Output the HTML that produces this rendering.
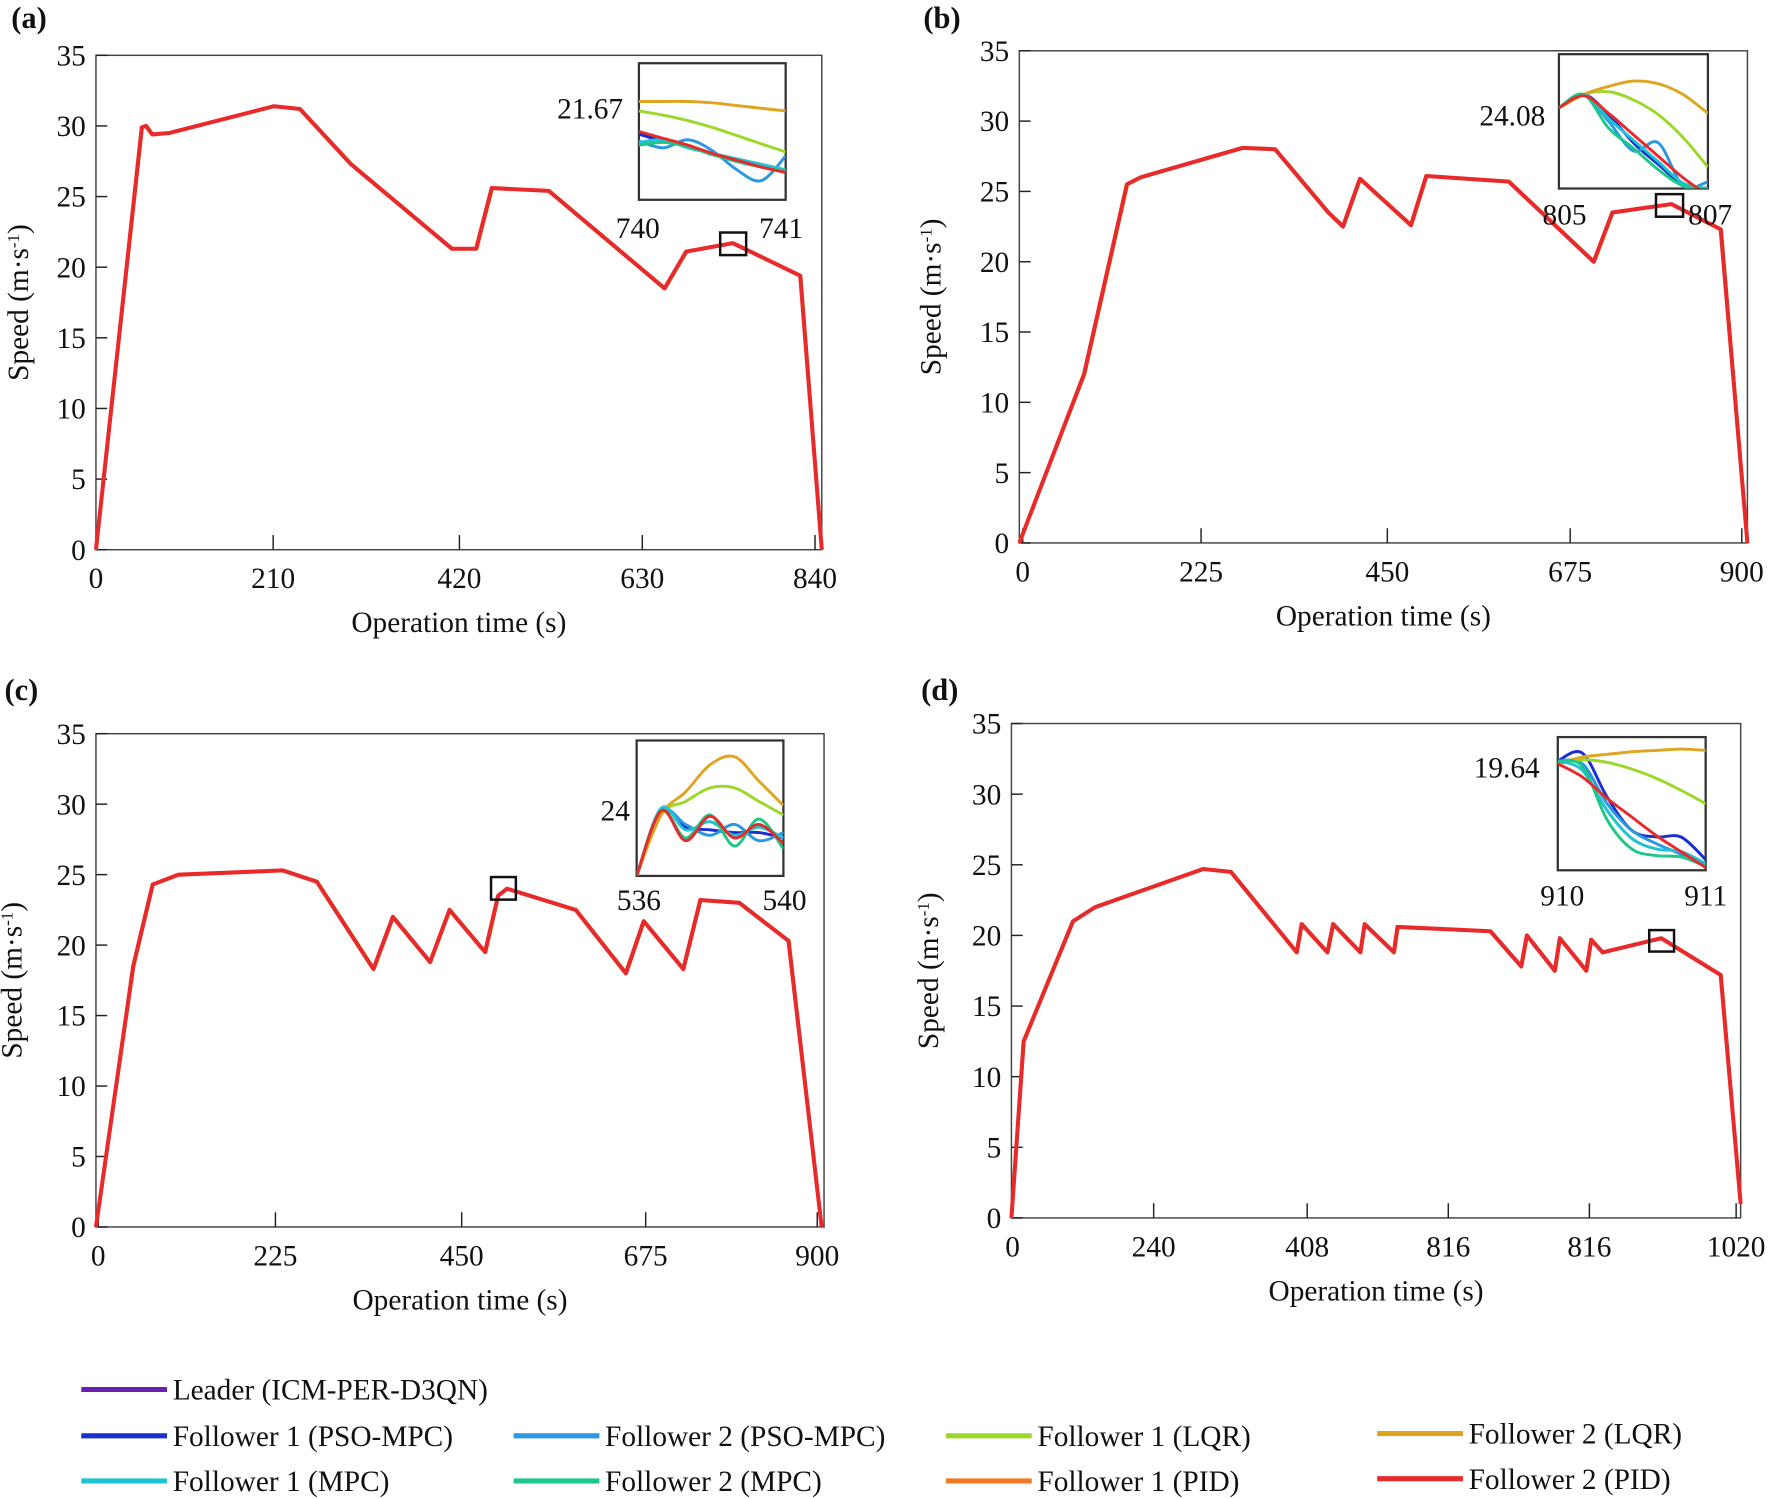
<!DOCTYPE html>
<html><head><meta charset="utf-8">
<style>
html,body{margin:0;padding:0;background:#fff;}
svg{display:block;}
text{font-family:"Liberation Serif",serif;fill:#111;}
</style></head>
<body>
<svg id="chart" width="1770" height="1499" viewBox="0 0 1568 1328" preserveAspectRatio="none" xmlns="http://www.w3.org/2000/svg"></svg>
<script>
// ---------- data ----------
const seriesNames = ["Leader (ICM-PER-D3QN)","Follower 1 (PSO-MPC)","Follower 2 (PSO-MPC)","Follower 1 (LQR)","Follower 2 (LQR)","Follower 1 (MPC)","Follower 2 (MPC)","Follower 1 (PID)","Follower 2 (PID)"];
const seriesColors = ["#6a1fb0","#1a2fd0","#2a98e0","#9bd82a","#e0a520","#20c2d4","#1fc68a","#f07a22","#e82a2a"];

const timeA = [0,53,58,65,85,206,236,295,412,440,458,524,658,683,737,815,840];
const speedA = [0,29.9,30,29.4,29.5,31.4,31.2,27.3,21.3,21.3,25.6,25.4,18.5,21.1,21.7,19.4,0];
const timeB = [0,80,133,150,276,316,382,400,421,484,503,605,710,733,806,867,900];
const speedB = [0,12,25.5,26,28.1,28,23.5,22.5,25.9,22.6,26.1,25.7,20,23.5,24.1,22.3,0];
const timeC = [0,46,70,102,231,273,343,367,413,437,481,497,508,593,655,677,726,747,795,856,897];
const speedC = [0,18.5,24.3,25,25.3,24.5,18.3,22,18.8,22.5,19.5,23.5,24,22.5,18,21.7,18.3,23.2,23,20.3,0];
const timeD = [0,17,86,117,268,307,399,406,442,450,488,494,535,540,670,713,721,760,767,804,811,827,909,992,1020];
const speedD = [0,12.5,21,22,24.7,24.5,18.8,20.8,18.8,20.8,18.8,20.8,18.8,20.6,20.3,17.8,20,17.5,19.8,17.5,19.7,18.8,19.8,17.2,1];

const yTicks = [0,5,10,15,20,25,30,35];
const xTickLabelsA = ["0","210","420","630","840"];
const xTickLabelsB = ["0","225","450","675","900"];
const xTickLabelsC = ["0","225","450","675","900"];
const xTickLabelsD = ["0","240","408","816","816","1020"];

// inset curves: y as fraction of inset height (0 top, 1 bottom), sampled evenly across inset width
const insetA = {
 4:[0.28,0.28,0.28,0.29,0.31,0.33,0.35],
 3:[0.35,0.38,0.42,0.47,0.53,0.59,0.65],
 2:[0.57,0.62,0.56,0.64,0.78,0.86,0.68],
 6:[0.60,0.58,0.61,0.67,0.72,0.76,0.79],
 5:[0.58,0.56,0.62,0.66,0.70,0.74,0.78],
 1:[0.52,0.57,0.61,0.66,0.71,0.75,0.80],
 8:[0.50,0.55,0.60,0.66,0.71,0.76,0.80]};
const insetB = {
 4:[0.40,0.30,0.24,0.20,0.22,0.30,0.44],
 3:[0.40,0.30,0.28,0.34,0.45,0.62,0.84],
 2:[0.40,0.30,0.50,0.72,0.66,0.98,0.95],
 6:[0.40,0.30,0.55,0.70,0.86,0.98,1.0],
 5:[0.40,0.30,0.48,0.64,0.80,0.96,1.0],
 1:[0.40,0.30,0.45,0.66,0.82,0.97,1.0],
 8:[0.40,0.31,0.44,0.60,0.76,0.92,1.05]};
const insetC = {
 4:[1.0,0.55,0.38,0.18,0.12,0.30,0.48],
 3:[1.0,0.55,0.45,0.35,0.35,0.45,0.55],
 2:[1.0,0.52,0.62,0.70,0.62,0.74,0.68],
 6:[1.0,0.52,0.72,0.55,0.78,0.58,0.80],
 5:[1.0,0.50,0.66,0.60,0.70,0.64,0.72],
 1:[1.0,0.52,0.64,0.66,0.68,0.68,0.72],
 8:[1.0,0.52,0.74,0.56,0.72,0.62,0.76]};
const insetD = {
 4:[0.20,0.15,0.13,0.11,0.10,0.09,0.10],
 3:[0.20,0.17,0.19,0.24,0.31,0.40,0.50],
 1:[0.18,0.12,0.45,0.70,0.75,0.75,0.92],
 5:[0.18,0.25,0.55,0.76,0.84,0.86,0.95],
 6:[0.18,0.22,0.62,0.84,0.89,0.90,0.97],
 2:[0.18,0.20,0.50,0.70,0.80,0.88,0.97],
 8:[0.20,0.30,0.46,0.60,0.74,0.86,0.98]};

// ---------- helpers ----------
const svg = document.getElementById('chart');
const NS = "http://www.w3.org/2000/svg";
function mk(tag, attrs, parent){
  const e = document.createElementNS(NS, tag);
  for (const k in attrs) e.setAttribute(k, attrs[k]);
  (parent||svg).appendChild(e);
  return e;
}
function txt(str, x, y, size, anchor, parent, extra){
  const t = mk('text', Object.assign({x:x, y:y, 'font-size':size, 'text-anchor':anchor||'start'}, extra||{}), parent);
  t.textContent = str;
  return t;
}
function smoothPath(pts){
  let d = 'M' + pts[0][0].toFixed(1) + ',' + pts[0][1].toFixed(1);
  for (let i=0;i<pts.length-1;i++){
    const p0 = pts[Math.max(0,i-1)], p1 = pts[i], p2 = pts[i+1], p3 = pts[Math.min(pts.length-1,i+2)];
    const c1 = [p1[0]+(p2[0]-p0[0])/6, p1[1]+(p2[1]-p0[1])/6];
    const c2 = [p2[0]-(p3[0]-p1[0])/6, p2[1]-(p3[1]-p1[1])/6];
    d += ' C' + c1[0].toFixed(1)+','+c1[1].toFixed(1)+' '+c2[0].toFixed(1)+','+c2[1].toFixed(1)+' '+p2[0].toFixed(1)+','+p2[1].toFixed(1);
  }
  return d;
}

function panel(cfg){
  const g = mk('g', {});
  
  
  const L=cfg.L, R=cfg.R, T=cfg.T, B=cfg.B;
  const xs = v => L + (v - 0) / cfg.xmax * (R - L);
  const ys = v => B - v / 35 * (B - T);
  const lbl = txt('(' + cfg.id + ')', cfg.pl[0], cfg.pl[1], 27, 'start', g, {'font-weight':'bold'});
  
  
  const frame = mk('rect', {x:L, y:T, width:R-L, height:B-T, fill:'none', stroke:'#444', 'stroke-width':1.3}, g);
  
  
  yTicks.forEach(v => {
    const y = ys(v);
    mk('line', {x1:L, x2:L+10, y1:y, y2:y, stroke:'#222', 'stroke-width':1.3}, g);
    const t = txt(String(v), L-9, y+9, 26, 'end', g);
    
    
  });
  cfg.xlabels.forEach((s, i) => {
    const x = cfg.xpos[i];
    mk('line', {x1:x, x2:x, y1:B, y2:B-13, stroke:'#222', 'stroke-width':1.3}, g);
    const t = txt(s, x, B+34, 26, 'middle', g);
    
    
  });
  const xt = txt('Operation time (s)', (L+R)/2, B+73, 26, 'middle', g);
  
  
  const yc = (T+B)/2;
  const yt = mk('text', {x:0, y:0, 'font-size':26, 'text-anchor':'middle', transform:'translate('+(cfg.pl[0]+15)+','+yc+') rotate(-90)'}, g);
  yt.innerHTML = 'Speed (m·s<tspan baseline-shift="super" font-size="15">-1</tspan>)';
  
  
  const order = [3,4,1,2,5,6,7,0,8];
  order.forEach(si => {
    const lag = (si===3||si===4) ? 2.5 : (si===8||si===7 ? 0 : 1);
    const pts = cfg.t.map((tv,i) => xs(tv + (i>0 && i<cfg.t.length-1 ? lag*0.3 : 0)).toFixed(1) + ',' + ys(cfg.s[i]).toFixed(1));
    const p = mk('polyline', {points:pts.join(' '), fill:'none', stroke:seriesColors[si], 'stroke-width': si===8?3.6:2.8, 'stroke-linejoin':'round'}, g);
    
    
  });
  const zb = cfg.zb;
  const zr = mk('rect', {x:zb[0], y:zb[1], width:zb[2], height:zb[3], fill:'none', stroke:'#111', 'stroke-width':2.2}, g);
  
  
  const ib = cfg.inset;
  const ir = mk('rect', {x:ib[0], y:ib[1], width:ib[2], height:ib[3], fill:'#fff', stroke:'#333', 'stroke-width':2}, g);
  
  
  const clipId = 'clip' + cfg.id;
  const cp = mk('clipPath', {id:clipId}, g);
  mk('rect', {x:ib[0], y:ib[1], width:ib[2], height:ib[3]}, cp);
  const ig = mk('g', {'clip-path':'url(#'+clipId+')'}, g);
  Object.keys(cfg.curves).forEach(k => {
    const arr = cfg.curves[k];
    const pts = arr.map((v,i) => [ib[0] + i/(arr.length-1)*ib[2], ib[1] + v*ib[3]]);
    const c = mk('path', {d:smoothPath(pts), fill:'none', stroke:seriesColors[+k], 'stroke-width':2.6}, ig);
    
    
  });
  const il = cfg.ilabels;
  [[il[0], il[1], il[2], 'end'], [il[3], il[4], il[5], 'middle'], [il[6], il[7], il[8], 'middle']].forEach(a => {
    const t = txt(a[0], a[1], a[2], 26, a[3], g);
    
    
  });
}

panel({id:'a', L:85, R:728, T:49, B:487, xmax:840, pl:[10,25],
  xlabels:xTickLabelsA, xpos:[85,242,407,569,722], t:timeA, s:speedA,
  zb:[638,206,23,20], inset:[566,56,130,121], curves:insetA,
  ilabels:['21.67',552,105,'740',565,211,'741',692,211]});
panel({id:'b', L:903, R:1548, T:45, B:481, xmax:900, pl:[818,25],
  xlabels:xTickLabelsB, xpos:[906,1064,1229,1391,1543], t:timeB, s:speedB,
  zb:[1467,172,24,20], inset:[1381,48,132,119], curves:insetB,
  ilabels:['24.08',1369,111,'805',1386,199,'807',1515,199]});
panel({id:'c', L:85, R:730, T:650, B:1087, xmax:900, pl:[4,620],
  xlabels:xTickLabelsC, xpos:[87,244,409,572,724], t:timeC, s:speedC,
  zb:[435,777,22,20], inset:[564,656,130,120], curves:insetC,
  ilabels:['24',558,727,'536',566,806,'540',695,806]});
panel({id:'d', L:896, R:1542, T:641, B:1079, xmax:1020, pl:[816,620],
  xlabels:xTickLabelsD, xpos:[897,1022,1158,1283,1408,1538], t:timeD, s:speedD,
  zb:[1461,824,22,19], inset:[1380,653,131,118], curves:insetD,
  ilabels:['19.64',1364,689,'910',1384,802,'911',1511,802]});

// ---------- legend ----------
const legend = mk('g', {});


const legendPos = [[72,1231],[72,1272],[455,1272],[838,1272],[1220,1270],[72,1312],[455,1312],[838,1312],[1220,1310]];
seriesNames.forEach((n,i) => {
  const p = legendPos[i];
  const e = mk('g', {}, legend);
  
  
  mk('line', {x1:p[0], x2:p[0]+76, y1:p[1], y2:p[1], stroke:seriesColors[i], 'stroke-width':4.5}, e);
  txt(n, p[0]+81, p[1]+9, 26, 'start', e);
});
</script>
</body></html>
